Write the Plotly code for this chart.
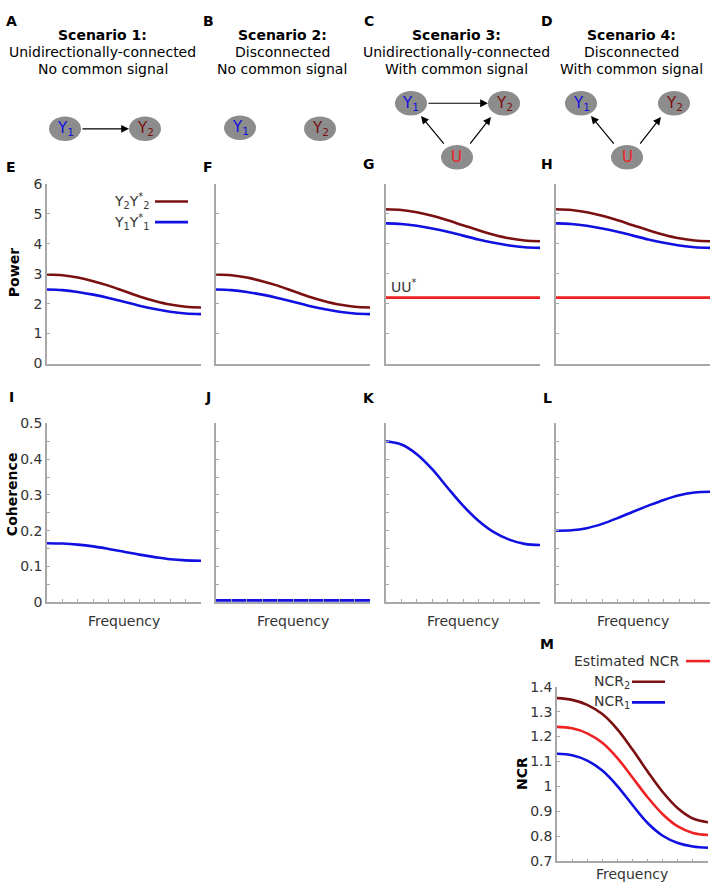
import plotly.graph_objects as go

W, H = 714, 894

# ---------------- data ----------------
frequency = [0.0, 0.1, 0.2, 0.3, 0.4, 0.5, 0.6, 0.7, 0.8, 0.9, 1.0]

# Power spectra (scenarios 1 & 2 identical, 3 & 4 identical)
power_y2_s1 = [2.97, 2.945, 2.87, 2.75, 2.60, 2.42, 2.24, 2.09, 1.97, 1.895, 1.87]
power_y1_s1 = [2.47, 2.45, 2.39, 2.30, 2.19, 2.06, 1.93, 1.82, 1.73, 1.67, 1.65]
power_y2_s2 = [2.97, 2.945, 2.87, 2.75, 2.60, 2.42, 2.24, 2.09, 1.97, 1.895, 1.87]
power_y1_s2 = [2.47, 2.45, 2.39, 2.30, 2.19, 2.06, 1.93, 1.82, 1.73, 1.67, 1.65]
power_y2_s3 = [5.15, 5.125, 5.05, 4.93, 4.78, 4.615, 4.45, 4.30, 4.18, 4.105, 4.08]
power_y1_s3 = [4.68, 4.66, 4.60, 4.51, 4.40, 4.27, 4.14, 4.03, 3.94, 3.88, 3.86]
power_u_s3 = [2.2, 2.2, 2.2, 2.2, 2.2, 2.2, 2.2, 2.2, 2.2, 2.2, 2.2]
power_y2_s4 = [5.15, 5.125, 5.05, 4.93, 4.78, 4.615, 4.45, 4.30, 4.18, 4.105, 4.08]
power_y1_s4 = [4.68, 4.66, 4.60, 4.51, 4.40, 4.27, 4.14, 4.03, 3.94, 3.88, 3.86]
power_u_s4 = [2.2, 2.2, 2.2, 2.2, 2.2, 2.2, 2.2, 2.2, 2.2, 2.2, 2.2]

# Coherence
coh_s1 = [0.165, 0.164, 0.161, 0.156, 0.149, 0.141, 0.133, 0.126, 0.120, 0.117, 0.116]
coh_s2 = [0.005, 0.005, 0.005, 0.005, 0.005, 0.005, 0.005, 0.005, 0.005, 0.005, 0.005]
coh_s3 = [0.450, 0.441, 0.414, 0.372, 0.320, 0.270, 0.228, 0.196, 0.175, 0.163, 0.160]
coh_s4 = [0.200, 0.201, 0.207, 0.219, 0.235, 0.253, 0.270, 0.286, 0.299, 0.307, 0.309]

# NCR
ncr2 = [1.354, 1.347, 1.327, 1.290, 1.229, 1.148, 1.060, 0.978, 0.913, 0.872, 0.857]
ncr_est = [1.239, 1.233, 1.213, 1.175, 1.114, 1.036, 0.957, 0.889, 0.840, 0.814, 0.806]
ncr1 = [1.131, 1.125, 1.104, 1.064, 1.002, 0.926, 0.854, 0.803, 0.774, 0.760, 0.755]

power_ticks = [0, 1, 2, 3, 4, 5, 6]
coh_ticks = [0, 0.1, 0.2, 0.3, 0.4, 0.5]
coh_tick_labels = ["0", "0.1", "0.2", "0.3", "0.4", "0.5"]
ncr_ticks = [0.7, 0.8, 0.9, 1.0, 1.1, 1.2, 1.3, 1.4]
ncr_tick_labels = ["0.7", "0.8", "0.9", "1", "1.1", "1.2", "1.3", "1.4"]

scenario_titles = ["Scenario 1:", "Scenario 2:", "Scenario 3:", "Scenario 4:"]
scenario_line2 = ["Unidirectionally-connected", "Disconnected",
                  "Unidirectionally-connected", "Disconnected"]
scenario_line3 = ["No common signal", "No common signal",
                  "With common signal", "With common signal"]

# ---------------- style ----------------
FONT = "DejaVu Sans"
DARKRED = "#7a1010"
BLUE = "#1010e0"
RED = "#ee2222"
AXIS = "#a8a8a8"
TXT = "#333333"
LW = 2.6


def px(x):
    return x / W


def py(y):
    return 1 - y / H


fig = go.Figure()

cols = [(47, 201), (216, 370), (386, 540), (556, 710)]
row1 = (179, 362)
row2 = (423, 605)

axis_common = dict(showgrid=False, zeroline=False, showline=True, linecolor=AXIS,
                   linewidth=1.5, tickcolor=AXIS, ticks="inside", ticklen=3,
                   tickfont=dict(family=FONT, size=14, color=TXT), mirror=False)

layout = {}
idx = 0


def add_axes(xr, yr, xrange, yrange, xticks, yticks, yticklabels, showylabels, minor_y=None):
    global idx
    idx += 1
    xa = "xaxis" if idx == 1 else f"xaxis{idx}"
    ya = "yaxis" if idx == 1 else f"yaxis{idx}"
    xax = dict(axis_common, domain=[px(xr[0]), px(xr[1])], range=xrange,
               anchor="y" if idx == 1 else f"y{idx}", showticklabels=False)
    if xticks is None:
        xax["ticks"] = ""
    else:
        xax["tickvals"] = xticks
    yax = dict(axis_common, domain=[py(yr[1]), py(yr[0])], range=yrange,
               anchor="x" if idx == 1 else f"x{idx}", tickvals=yticks,
               ticktext=yticklabels, showticklabels=showylabels)
    if minor_y is not None:
        yax["minor"] = dict(dtick=minor_y, ticks="inside", ticklen=3, tickcolor=AXIS)
    layout[xa] = xax
    layout[ya] = yax
    return ("x" if idx == 1 else f"x{idx}", "y" if idx == 1 else f"y{idx}")


def line(xref, yref, ys, color):
    fig.add_trace(go.Scatter(x=frequency, y=ys, mode="lines", xaxis=xref, yaxis=yref,
                             line=dict(color=color, width=LW, shape="spline", smoothing=1.0),
                             showlegend=False, hoverinfo="skip"))


freq_ticks = [0.1, 0.2, 0.3, 0.4, 0.5, 0.6, 0.7, 0.8, 0.9, 1.0]

# Power row
power_sets = [(power_y2_s1, power_y1_s1, None), (power_y2_s2, power_y1_s2, None),
              (power_y2_s3, power_y1_s3, power_u_s3), (power_y2_s4, power_y1_s4, power_u_s4)]
for i, (c, (y2, y1, u)) in enumerate(zip(cols, power_sets)):
    xr_, yr_ = add_axes(c, row1, [0, 1], [0, 6], None, power_ticks,
                        [str(v) for v in power_ticks], i == 0)
    if u is not None:
        line(xr_, yr_, u, RED)
    line(xr_, yr_, y1, BLUE)
    line(xr_, yr_, y2, DARKRED)

# Coherence row
for i, (c, ys) in enumerate(zip(cols, [coh_s1, coh_s2, coh_s3, coh_s4])):
    xr_, yr_ = add_axes(c, row2, [0, 1], [0, 0.5], freq_ticks, coh_ticks,
                        coh_tick_labels, i == 0, minor_y=0.05)
    line(xr_, yr_, ys, BLUE)

# NCR panel
xr_, yr_ = add_axes((557, 708), (691, 869), [0, 1], [0.7, 1.4], freq_ticks, ncr_ticks,
                    ncr_tick_labels, True)
line(xr_, yr_, ncr1, BLUE)
line(xr_, yr_, ncr_est, RED)
line(xr_, yr_, ncr2, DARKRED)

annotations = []
shapes = []


def text(x, y, s, size=14, color=TXT, bold=False, xanchor="center", yanchor="middle", angle=0):
    if bold:
        s = f"<b>{s}</b>"
    annotations.append(dict(x=px(x), y=py(y), xref="paper", yref="paper", text=s,
                            showarrow=False, xanchor=xanchor, yanchor=yanchor,
                            textangle=angle,
                            font=dict(family=FONT, size=size, color=color)))


# panel letters
letters = [("A", 11, 13), ("B", 208, 13), ("C", 369, 13), ("D", 547, 13),
           ("E", 11, 162), ("F", 208, 162), ("G", 369, 159), ("H", 547, 159),
           ("I", 11, 396), ("J", 208, 396), ("K", 369, 397), ("L", 547, 397),
           ("M", 547, 648)]
for s, x, y in letters:
    text(x, y, s, size=14, color="black", bold=True)

# scenario titles
centers = [103, 282, 457, 631]
for cx, t1, t2, t3 in zip(centers, scenario_titles, scenario_line2, scenario_line3):
    text(cx, 28, t1, bold=True, color="black")
    text(cx, 45, t2, color="black")
    text(cx, 62, t3, color="black")

# network diagrams
NODE = "#8c8c8c"


def node(cx, cy, label, color):
    shapes.append(dict(type="circle", xref="paper", yref="paper",
                       x0=px(cx - 16), x1=px(cx + 16), y0=py(cy + 12.5), y1=py(cy - 12.5),
                       fillcolor=NODE, line=dict(color=NODE, width=0), layer="below"))
    text(cx, cy, label, size=15, color=color)


def arrow(x0, y0, x1, y1):
    annotations.append(dict(x=px(x1), y=py(y1), xref="paper", yref="paper",
                            ax=x0 - x1, ay=y0 - y1, axref="pixel", ayref="pixel",
                            showarrow=True, arrowhead=2, arrowsize=1.3, arrowwidth=1.2,
                            arrowcolor="black", text="", standoff=0, startstandoff=0))


Y1L = "Y<sub>1</sub>"
Y2L = "Y<sub>2</sub>"
# A
node(65, 123, Y1L, BLUE)
node(145, 123, Y2L, DARKRED)
arrow(81, 123, 129, 123)
# B
node(240, 122, Y1L, BLUE)
node(320, 123, Y2L, DARKRED)
# C
node(411, 97, Y1L, BLUE)
node(504, 97, Y2L, DARKRED)
node(457, 152, "U", RED)
arrow(427, 97, 488, 97)
arrow(445, 139, 421, 110)
arrow(469, 139, 491, 111)
# D
node(581, 97, Y1L, BLUE)
node(674, 97, Y2L, DARKRED)
node(627, 152, "U", RED)
arrow(615, 139, 591, 110)
arrow(639, 139, 661, 111)

# axis titles
text(14, 270, "Power", color="black", bold=True, angle=-90)
text(12, 495, "Coherence", color="black", bold=True, angle=-90)
text(522, 780, "NCR", color="black", bold=True, angle=-90)
for cx in [124, 293, 463, 633]:
    text(cx, 624, "Frequency", color=TXT)
text(632, 882, "Frequency", color=TXT)


# legends (text right-aligned, line sample to the right)
def legend_item(xr_text, y, label, color, x0, x1):
    text(xr_text, y, label, color=TXT, xanchor="right")
    shapes.append(dict(type="line", xref="paper", yref="paper", x0=px(x0), x1=px(x1),
                       y0=py(y), y1=py(y), line=dict(color=color, width=LW)))


legend_item(152, 197, "Y<sub>2</sub>Y<sup>*</sup><sub>2</sub>", DARKRED, 155, 188)
legend_item(152, 218, "Y<sub>1</sub>Y<sup>*</sup><sub>1</sub>", BLUE, 155, 188)
legend_item(681, 665, "Estimated NCR", RED, 686, 710)
legend_item(632, 686, "NCR<sub>2</sub>", DARKRED, 632, 665)
legend_item(632, 707, "NCR<sub>1</sub>", BLUE, 632, 665)

# UU* label
text(389, 283, "UU<sup>*</sup>", color=TXT, xanchor="left")

fig.update_layout(width=W, height=H, margin=dict(l=0, r=0, t=0, b=0),
                  paper_bgcolor="white", plot_bgcolor="white",
                  showlegend=False, annotations=annotations, shapes=shapes, **layout)

fig.write_html("out.html", config={"displayModeBar": False},
               post_script="document.body.style.margin='0';document.body.style.padding='0';"
                           "document.documentElement.style.overflow='hidden';")
